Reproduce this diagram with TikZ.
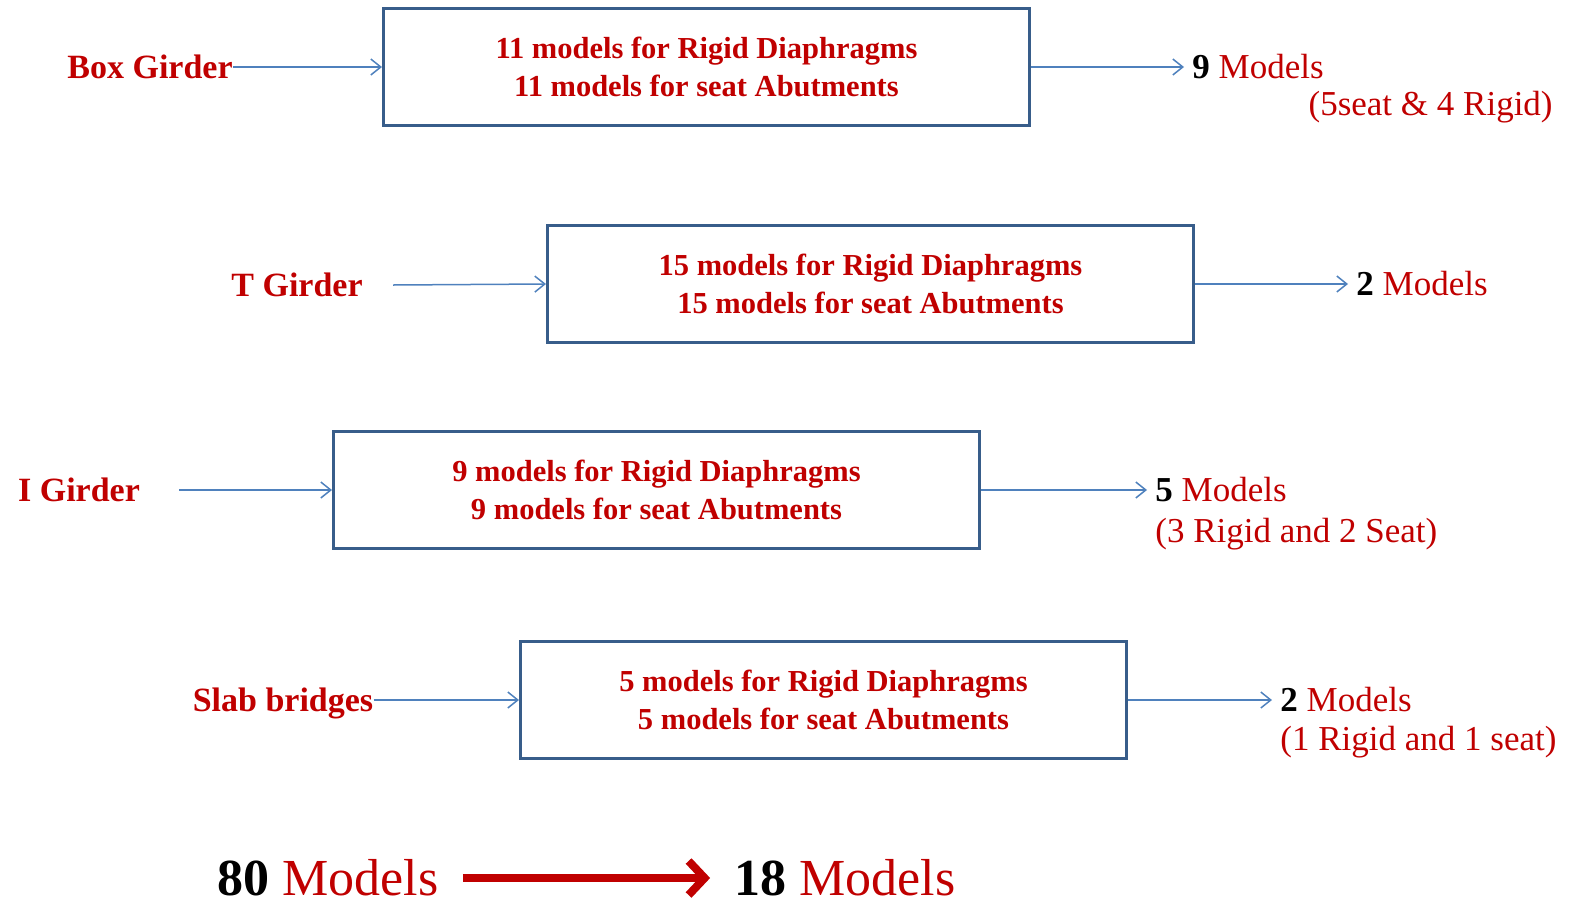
\documentclass[tikz,border=0pt]{standalone}
\usepackage{fontspec}
\usepackage{xcolor}
\usepackage{tikz}
\setmainfont{Liberation Serif}
\usetikzlibrary{arrows.meta}
\definecolor{brickred}{HTML}{C00000}
\definecolor{linkblue}{HTML}{4F81BD}
\definecolor{boxblue}{HTML}{385D8A}

\begin{document}
\begin{tikzpicture}[>={Straight Barb[length=5pt, width=8pt]}, x=0.5pt, y=-0.5pt,
    girderbox/.style={draw=boxblue, line width=1.5pt, minimum width=323pt, minimum height=58.5pt,
        align=center, text=brickred, font=\bfseries\fontsize{15.25}{19}\selectfont},
    girder/.style={text=brickred, inner sep=0pt, text depth=0pt, font=\bfseries\fontsize{17}{20}\selectfont},
    result/.style={text=brickred, anchor=west, inner xsep=4pt, inner ysep=0pt, font=\fontsize{17.5}{21}\selectfont},
    total/.style={text=brickred, inner xsep=12pt, inner ysep=0pt, font=\fontsize{26}{30}\selectfont},
    link/.style={->, draw=linkblue, line width=0.75pt}]
    \useasboundingbox (0,0) rectangle (1575,906);

    % girder types
    \node [girder] (boxg) at (150, 67) {Box Girder};
    \node [girder] (tg) at (297, 285) {T Girder};
    \node [girder] (ig) at (79, 490) {I Girder};
    \node [girder] (slab) at (283, 700) {Slab bridges};

    % models per type
    \node [girderbox] (boxgm) at (706.5, 67) {11 models for Rigid Diaphragms\\11 models for seat Abutments};
    \node [girderbox] (tgm) at (870.5, 284) {15 models for Rigid Diaphragms\\15 models for seat Abutments};
    \node [girderbox] (igm) at (656.5, 490) {9 models for Rigid Diaphragms\\9 models for seat Abutments};
    \node [girderbox, minimum width=303pt] (slabm) at (823.5, 700) {5 models for Rigid Diaphragms\\5 models for seat Abutments};

    % kept models
    \node [result] (boxgr) at (1184, 67) {{\bfseries\color{black}9} Models};
    \node [result, anchor=east] (boxgs) at (1561, 107) {(5seat \& 4 Rigid)};
    \node [result] (tgr) at (1348, 284) {{\bfseries\color{black}2} Models};
    \node [result] (igr) at (1147, 490) {{\bfseries\color{black}5} Models};
    \node [result] (igs) at (1147, 534) {(3 Rigid and 2 Seat)};
    \node [result] (slabr) at (1272, 700) {{\bfseries\color{black}2} Models};
    \node [result] (slabs) at (1272, 742) {(1 Rigid and 1 seat)};

    \draw [link] (boxg.east) -- (boxgm.west);
    \draw [link] ([xshift=15pt]tg.east) -- (tgm.west);
    \draw [link] ([xshift=19.5pt]ig.east) -- (igm.west);
    \draw [link] (slab.east) -- (slabm.west);
    \draw [link] (boxgm.east) -- (boxgr.west);
    \draw [link] (tgm.east) -- (tgr.west);
    \draw [link] (igm.east) -- (igr.west);
    \draw [link] (slabm.east) -- (slabr.west);

    % totals
    \node [total] (before) at (328, 878) {{\bfseries\color{black}80} Models};
    \node [total] (after) at (845, 878) {{\bfseries\color{black}18} Models};
    \draw [-{Straight Barb[length=8pt, width=17pt]}, brickred, line width=4pt] (before.east) -- (after.west);
\end{tikzpicture}
\end{document}
